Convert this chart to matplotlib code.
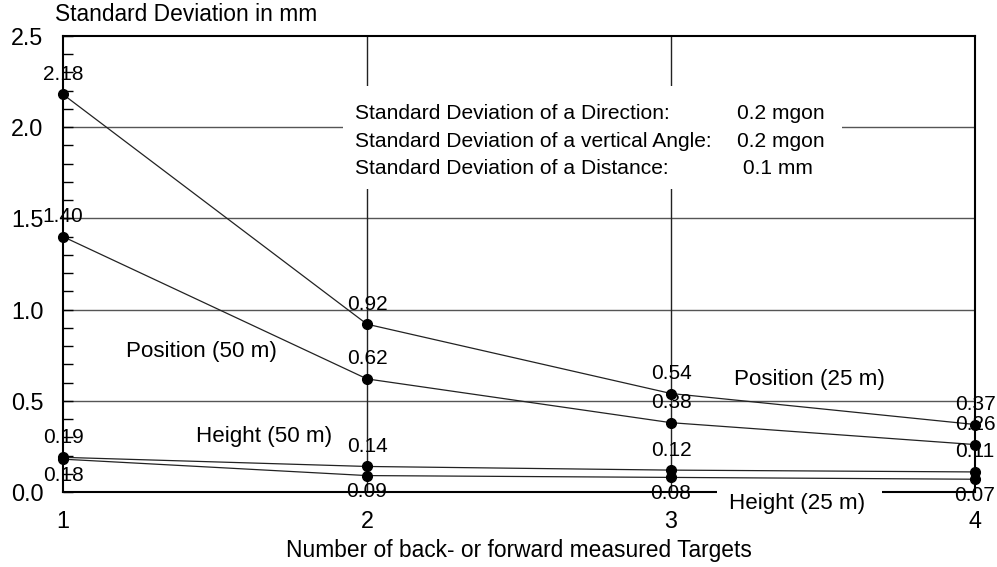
import matplotlib
matplotlib.use("Agg")
import matplotlib.pyplot as plt
from matplotlib.patches import Rectangle
from matplotlib.ticker import MultipleLocator, FormatStrFormatter

plt.rcParams['font.family'] = ['Liberation Sans', 'DejaVu Sans']

targets = [1, 2, 3, 4]
position_50m = [2.18, 0.92, 0.54, 0.37]
position_25m = [1.40, 0.62, 0.38, 0.26]
height_50m = [0.19, 0.14, 0.12, 0.11]
height_25m = [0.18, 0.09, 0.08, 0.07]

# (values, label placement: +1 above the point, -1 below)
series = [
    (position_50m, 1),
    (position_25m, 1),
    (height_50m, 1),
    (height_25m, -1),
]

settings = [
    ("Standard Deviation of a Direction:", "0.2 mgon"),
    ("Standard Deviation of a vertical Angle:", "0.2 mgon"),
    ("Standard Deviation of a Distance:", " 0.1 mm"),
]

FS_VAL = 15
FS_NOTE = 15.1
FS_CURVE = 16.1
FS_TICK = 16.8
FS_AXIS = 16.4

fig = plt.figure(figsize=(9.97, 5.67), dpi=100)
ax = fig.add_axes([63 / 997, 1 - 492 / 567, 912 / 997, 456 / 567])

ax.set_xlim(1, 4)
ax.set_ylim(0, 2.5)

# grid
for y in [0.5, 1.0, 1.5, 2.0]:
    ax.axhline(y, color="#555555", lw=1.0, zorder=1)
for x in [2, 3]:
    ax.axvline(x, color="#222222", lw=1.0, zorder=1)

# series
for values, side in series:
    ax.plot(targets, values, color="#222222", lw=0.9, marker="o",
            markersize=7, markerfacecolor="black", markeredgecolor="black",
            zorder=4, clip_on=False)
    for x, v in zip(targets, values):
        off = 20 if side > 0 else -16
        ax.annotate(f"{v:.2f}", (x, v), xytext=(0, off * 0.72),
                    textcoords="offset points", ha="center", va="center",
                    fontsize=FS_VAL, zorder=6, annotation_clip=False)

# measurement settings box
ax.add_patch(Rectangle((1.921, 1.66), 3.563 - 1.921, 2.225 - 1.66,
                       facecolor="white", edgecolor="none", zorder=2))
for i, (name, val) in enumerate(settings):
    y = 2.044 - i * 0.151
    ax.text(1.96, y, name, fontsize=FS_NOTE, ha="left", va="baseline", zorder=5)
    ax.text(3.217, y, val, fontsize=FS_NOTE, ha="left", va="baseline", zorder=5)

# curve labels
ax.text(1.457, 0.769, "Position (50 m)", fontsize=FS_CURVE, ha="center", va="center", zorder=5)
ax.text(1.66, 0.302, "Height (50 m)", fontsize=FS_CURVE, ha="center", va="center", zorder=5)
ax.text(3.457, 0.615, "Position (25 m)", fontsize=FS_CURVE, ha="center", va="center", zorder=5)
ax.add_patch(Rectangle((3.151, -0.154), 3.694 - 3.151, 0.154 + 0.055,
                       facecolor="white", edgecolor="none", zorder=3,
                       clip_on=False))
ax.text(3.416, -0.065, "Height (25 m)", fontsize=FS_CURVE, ha="center", va="center",
        zorder=5, clip_on=False)

# axes styling
for s in ax.spines.values():
    s.set_linewidth(1.5)
    s.set_color("black")
ax.set_xticks(targets)
ax.set_xticklabels([str(t) for t in targets])
ax.yaxis.set_major_locator(MultipleLocator(0.5))
ax.yaxis.set_minor_locator(MultipleLocator(0.1))
ax.yaxis.set_major_formatter(FormatStrFormatter("%.1f"))
ax.tick_params(axis="x", length=0, pad=13, labelsize=FS_TICK)
ax.tick_params(axis="y", which="both", direction="in", length=7, width=1,
               pad=14, labelsize=FS_TICK)

ax.text(0.974, 2.62, "Standard Deviation in mm", fontsize=FS_AXIS, ha="left",
        va="center", clip_on=False)
ax.set_xlabel("Number of back- or forward measured Targets", fontsize=FS_AXIS,
              labelpad=4)

fig.savefig("out.png", dpi=100)
